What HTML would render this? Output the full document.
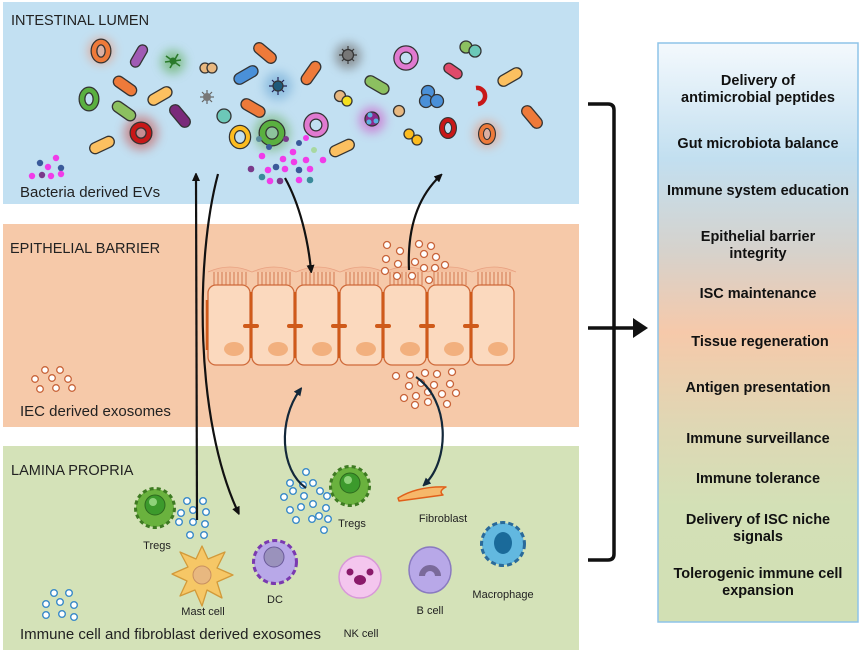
<!DOCTYPE html>
<html><head><meta charset="utf-8"><style>
html,body{margin:0;padding:0;background:#fff;}
svg{display:block;font-family:"Liberation Sans",sans-serif;}
</style></head><body>
<svg width="865" height="653" viewBox="0 0 865 653" xmlns="http://www.w3.org/2000/svg">
<defs>
<linearGradient id="rg" x1="0" y1="0" x2="0" y2="1">
<stop offset="0" stop-color="#f4f9fd"/>
<stop offset="0.2" stop-color="#c2dff0"/>
<stop offset="0.36" stop-color="#d6d2cc"/>
<stop offset="0.5" stop-color="#f6c9aa"/>
<stop offset="0.66" stop-color="#dfd7b4"/>
<stop offset="0.8" stop-color="#d3e0b6"/>
<stop offset="1" stop-color="#d2e0b4"/>
</linearGradient>
<filter id="bl" x="-1" y="-1" width="3" height="3"><feGaussianBlur stdDeviation="5"/></filter>
<marker id="ah" markerWidth="8" markerHeight="8" refX="5" refY="4" orient="auto" markerUnits="userSpaceOnUse"><path d="M0,0 L9,4 L0,8 Z" fill="#111"/></marker>
<marker id="ahb" markerWidth="8" markerHeight="8" refX="5" refY="4" orient="auto" markerUnits="userSpaceOnUse"><path d="M0,0 L9,4 L0,8 Z" fill="#13283a"/></marker>
</defs>

<rect x="3" y="2" width="576" height="202" fill="#c2e0f2"/>
<rect x="3" y="224" width="576" height="203" fill="#f6c9a9"/>
<rect x="3" y="446" width="576" height="204" fill="#d4e2b8"/>
<text x="11" y="25" font-size="14.5" fill="#222">INTESTINAL LUMEN</text>
<text x="10" y="253" font-size="14.5" fill="#222">EPITHELIAL BARRIER</text>
<text x="11" y="475" font-size="14.5" fill="#222">LAMINA PROPRIA</text>

<g filter="url(#bl)" opacity="0.7">
<circle cx="101" cy="51" r="13" fill="#e89a7e"/>
<circle cx="173" cy="62" r="12" fill="#6cb46c"/>
<circle cx="278" cy="86" r="14" fill="#7ab0d8"/>
<circle cx="348" cy="56" r="13" fill="#777"/>
<circle cx="141" cy="133" r="17" fill="#c86b6b"/>
<circle cx="272" cy="133" r="18" fill="#78b878"/>
<circle cx="372" cy="120" r="13" fill="#cc66cc"/>
<circle cx="487" cy="134" r="13" fill="#e89a7e"/>
</g>
<g stroke="#333" stroke-width="1.3">
<rect x="-12" y="-5" width="24" height="10" rx="5" fill="#a05ab4" transform="translate(139,56) rotate(-60)"/>
<rect x="-13" y="-5.5" width="26" height="11" rx="5.5" fill="#ee7a3a" transform="translate(265,53) rotate(40)"/>
<rect x="-13" y="-5.5" width="26" height="11" rx="5.5" fill="#4a90d8" transform="translate(246,75) rotate(-30)"/>
<rect x="-13" y="-5.5" width="26" height="11" rx="5.5" fill="#ee7a3a" transform="translate(311,73) rotate(-55)"/>
<rect x="-10" y="-5" width="20" height="10" rx="5" fill="#e04a6a" transform="translate(453,71) rotate(35)"/>
<rect x="-13" y="-5.5" width="26" height="11" rx="5.5" fill="#fcc060" transform="translate(510,77) rotate(-30)"/>
<rect x="-13" y="-5.5" width="26" height="11" rx="5.5" fill="#ee7a3a" transform="translate(125,86) rotate(35)"/>
<rect x="-13" y="-5.5" width="26" height="11" rx="5.5" fill="#fcc060" transform="translate(160,96) rotate(-30)"/>
<rect x="-13" y="-5.5" width="26" height="11" rx="5.5" fill="#8cc060" transform="translate(124,111) rotate(35)"/>
<rect x="-13" y="-5.5" width="26" height="11" rx="5.5" fill="#7a2a7a" transform="translate(180,116) rotate(50)"/>
<rect x="-13" y="-5.5" width="26" height="11" rx="5.5" fill="#ee7a3a" transform="translate(253,108) rotate(30)"/>
<rect x="-13" y="-5.5" width="26" height="11" rx="5.5" fill="#8cc060" transform="translate(377,85) rotate(30)"/>
<rect x="-13" y="-5.5" width="26" height="11" rx="5.5" fill="#ee7a3a" transform="translate(532,117) rotate(50)"/>
<rect x="-13" y="-5.5" width="26" height="11" rx="5.5" fill="#fcc060" transform="translate(102,145) rotate(-25)"/>
<rect x="-13" y="-5.5" width="26" height="11" rx="5.5" fill="#fcc060" transform="translate(342,148) rotate(-25)"/>
<ellipse cx="101" cy="51" rx="7" ry="9" fill="none" stroke="#333" stroke-width="7"/>
<ellipse cx="101" cy="51" rx="7" ry="9" fill="none" stroke="#ee7a3a" stroke-width="4.5"/>
<ellipse cx="89" cy="99" rx="7" ry="9" fill="none" stroke="#333" stroke-width="7"/>
<ellipse cx="89" cy="99" rx="7" ry="9" fill="none" stroke="#5ab040" stroke-width="4.5"/>
<circle cx="141" cy="133" r="8" fill="none" stroke="#333" stroke-width="7"/>
<circle cx="141" cy="133" r="8" fill="none" stroke="#c81818" stroke-width="4.5"/>
<ellipse cx="240" cy="137" rx="8" ry="9" fill="none" stroke="#333" stroke-width="6.5"/>
<ellipse cx="240" cy="137" rx="8" ry="9" fill="none" stroke="#fcbc20" stroke-width="4"/>
<circle cx="272" cy="133" r="9.5" fill="none" stroke="#333" stroke-width="8"/>
<circle cx="272" cy="133" r="9.5" fill="none" stroke="#5ab040" stroke-width="5.5"/>
<circle cx="316" cy="125" r="9" fill="none" stroke="#333" stroke-width="7.5"/>
<circle cx="316" cy="125" r="9" fill="none" stroke="#e07ad0" stroke-width="5"/>
<circle cx="406" cy="58" r="9" fill="none" stroke="#333" stroke-width="7.5"/>
<circle cx="406" cy="58" r="9" fill="none" stroke="#e07ad0" stroke-width="5"/>
<ellipse cx="448" cy="128" rx="6" ry="8" fill="none" stroke="#333" stroke-width="6"/>
<ellipse cx="448" cy="128" rx="6" ry="8" fill="none" stroke="#c81818" stroke-width="3.8"/>
<ellipse cx="487" cy="134" rx="6" ry="8" fill="none" stroke="#333" stroke-width="6"/>
<ellipse cx="487" cy="134" rx="6" ry="8" fill="none" stroke="#ee7a3a" stroke-width="3.8"/>
<circle cx="205" cy="68" r="5" fill="#e8b880"/><circle cx="212" cy="68" r="5" fill="#e8b880"/>
<circle cx="224" cy="116" r="7" fill="#6cc8b8"/>
<circle cx="340" cy="96" r="5.5" fill="#e8b880"/><circle cx="347" cy="101" r="5" fill="#f4e020"/>
<circle cx="399" cy="111" r="5.5" fill="#e8b880"/>
<circle cx="466" cy="47" r="6" fill="#8cc060"/><circle cx="475" cy="51" r="6" fill="#6cc8b8"/>
<circle cx="428" cy="92" r="6.5" fill="#4a90d8"/><circle cx="426" cy="101" r="6.5" fill="#4a90d8"/><circle cx="437" cy="101" r="6.5" fill="#4a90d8"/>
<circle cx="409" cy="134" r="5" fill="#fcbc20"/><circle cx="417" cy="140" r="5" fill="#fcbc20"/>
<circle cx="372" cy="119" r="7" fill="#8a2a8a"/>
</g>
<circle cx="370" cy="115" r="2.5" fill="#5ab0e0"/><circle cx="369" cy="122" r="2.5" fill="#5ab0e0"/><circle cx="376" cy="121" r="2.5" fill="#5ab0e0"/>
<path d="M476,88 A7,7 0 1 1 478,104" fill="none" stroke="#c81818" stroke-width="4.5"/>
<g stroke="#333" stroke-width="1.2">
<g stroke="#3c3c3c"><line x1="342" y1="49" x2="354" y2="61"/><line x1="354" y1="49" x2="342" y2="61"/><line x1="348" y1="46" x2="348" y2="64"/><line x1="339" y1="55" x2="357" y2="55"/></g>
<circle cx="348" cy="55" r="5.5" fill="#777"/>
<g stroke="#225"><line x1="272" y1="80" x2="284" y2="92"/><line x1="284" y1="80" x2="272" y2="92"/><line x1="278" y1="77" x2="278" y2="95"/><line x1="269" y1="86" x2="287" y2="86"/></g>
<circle cx="278" cy="86" r="5" fill="#1e5a7a"/>
<g stroke="#666"><line x1="202" y1="92" x2="212" y2="102"/><line x1="212" y1="92" x2="202" y2="102"/><line x1="207" y1="90" x2="207" y2="104"/><line x1="200" y1="97" x2="214" y2="97"/></g>
<circle cx="207" cy="97" r="4" fill="#777" stroke="none"/>
<g stroke="#2a7a2a" stroke-width="1.6"><line x1="166" y1="56" x2="180" y2="66"/><line x1="170" y1="68" x2="178" y2="54"/><line x1="165" y1="62" x2="181" y2="60"/></g>
<circle cx="173" cy="61" r="3.5" fill="#2a7a2a" stroke="none"/>
</g>
<g>
<circle cx="40" cy="163" r="3.2" fill="#3a5a9a"/><circle cx="48" cy="167" r="3.2" fill="#f03ce8"/><circle cx="56" cy="158" r="3.2" fill="#f03ce8"/><circle cx="61" cy="168" r="3.2" fill="#3a5a9a"/>
<circle cx="32" cy="176" r="3.2" fill="#f03ce8"/><circle cx="42" cy="175" r="3.2" fill="#7a3a8a"/><circle cx="51" cy="176" r="3.2" fill="#f03ce8"/><circle cx="61" cy="174" r="3.2" fill="#f03ce8"/>
</g>
<g>
<circle cx="259" cy="139" r="3" fill="#5a8a9a"/><circle cx="269" cy="147" r="3" fill="#3a5a9a"/><circle cx="286" cy="139" r="3" fill="#7a3a8a"/><circle cx="299" cy="143" r="3" fill="#3a5a9a"/><circle cx="306" cy="138" r="3" fill="#f03ce8"/>
<circle cx="293" cy="152" r="3.3" fill="#f03ce8"/><circle cx="314" cy="150" r="3" fill="#a8d8a0"/><circle cx="262" cy="156" r="3.3" fill="#f03ce8"/><circle cx="283" cy="159" r="3.3" fill="#f03ce8"/><circle cx="294" cy="162" r="3.3" fill="#f03ce8"/><circle cx="306" cy="160" r="3.3" fill="#f03ce8"/><circle cx="323" cy="160" r="3.3" fill="#f03ce8"/>
<circle cx="251" cy="169" r="3.3" fill="#7a3a8a"/><circle cx="268" cy="170" r="3.3" fill="#f03ce8"/><circle cx="276" cy="167" r="3.3" fill="#3a5a9a"/><circle cx="285" cy="169" r="3.3" fill="#f03ce8"/><circle cx="299" cy="170" r="3.3" fill="#3a5a9a"/><circle cx="310" cy="169" r="3.3" fill="#f03ce8"/>
<circle cx="262" cy="177" r="3.3" fill="#3a8a9a"/><circle cx="270" cy="181" r="3.3" fill="#f03ce8"/><circle cx="280" cy="181" r="3.3" fill="#7a3a8a"/><circle cx="299" cy="180" r="3.3" fill="#f03ce8"/><circle cx="310" cy="180" r="3.3" fill="#3a8a9a"/>
</g>
<text x="20" y="197" font-size="15" fill="#222">Bacteria derived EVs</text>

<path d="M208,272 q22,-10 44,0 q22,-10 44,0 q22,-10 44,0 q22,-10 44,0 q22,-10 44,0 q22,-10 44,0 q22,-10 44,0" fill="#f4bf9e" stroke="#e8a080" stroke-width="0.8"/>
<g stroke="#c8643a" stroke-width="0.8">
<path d="M214,272v13M218,272v13M222,272v13M226,272v13M230,272v13M234,272v13M238,272v13M242,272v13M246,272v13
M258,272v13M262,272v13M266,272v13M270,272v13M274,272v13M278,272v13M282,272v13M286,272v13M290,272v13
M302,272v13M306,272v13M310,272v13M314,272v13M318,272v13M322,272v13M326,272v13M330,272v13M334,272v13
M346,272v13M350,272v13M354,272v13M358,272v13M362,272v13M366,272v13M370,272v13M374,272v13M378,272v13
M390,272v13M394,272v13M398,272v13M402,272v13M406,272v13M410,272v13M414,272v13M418,272v13M422,272v13
M434,272v13M438,272v13M442,272v13M446,272v13M450,272v13M454,272v13M458,272v13M462,272v13M466,272v13
M478,272v13M482,272v13M486,272v13M490,272v13M494,272v13M498,272v13M502,272v13M506,272v13M510,272v13"/>
</g>
<g fill="#fbd9be" stroke="#cf6a3a" stroke-width="1.3">
<rect x="208" y="285" width="42" height="80" rx="8"/><rect x="252" y="285" width="42" height="80" rx="8"/><rect x="296" y="285" width="42" height="80" rx="8"/><rect x="340" y="285" width="42" height="80" rx="8"/><rect x="384" y="285" width="42" height="80" rx="8"/><rect x="428" y="285" width="42" height="80" rx="8"/><rect x="472" y="285" width="42" height="80" rx="8"/>
</g>
<g stroke="#cf5a1a" stroke-width="2.5">
<path d="M251,292v66M295,292v66M339,292v66M383,292v66M427,292v66M471,292v66M207,300v50"/>
</g>
<g stroke="#cf5a1a" stroke-width="4" stroke-linecap="round">
<path d="M245,326h12M289,326h12M333,326h12M377,326h12M421,326h12M465,326h12"/>
</g>
<g fill="#f2b07e"><ellipse cx="234" cy="349" rx="10" ry="7"/><ellipse cx="278" cy="349" rx="10" ry="7"/><ellipse cx="322" cy="349" rx="10" ry="7"/><ellipse cx="366" cy="349" rx="10" ry="7"/><ellipse cx="410" cy="349" rx="10" ry="7"/><ellipse cx="454" cy="349" rx="10" ry="7"/><ellipse cx="498" cy="349" rx="10" ry="7"/></g>
<g fill="#fff" stroke="#c8643a" stroke-width="1.3">
<circle cx="387" cy="245" r="3.5"/><circle cx="400" cy="251" r="3.5"/><circle cx="419" cy="244" r="3.5"/><circle cx="431" cy="246" r="3.5"/><circle cx="424" cy="254" r="3.5"/><circle cx="436" cy="257" r="3.5"/>
<circle cx="386" cy="259" r="3.5"/><circle cx="398" cy="264" r="3.5"/><circle cx="415" cy="262" r="3.5"/><circle cx="424" cy="268" r="3.5"/><circle cx="435" cy="268" r="3.5"/><circle cx="445" cy="265" r="3.5"/>
<circle cx="385" cy="271" r="3.5"/><circle cx="397" cy="276" r="3.5"/><circle cx="412" cy="276" r="3.5"/><circle cx="429" cy="280" r="3.5"/>
<circle cx="396" cy="376" r="3.5"/><circle cx="410" cy="375" r="3.5"/><circle cx="425" cy="373" r="3.5"/><circle cx="437" cy="374" r="3.5"/><circle cx="452" cy="372" r="3.5"/>
<circle cx="409" cy="386" r="3.5"/><circle cx="421" cy="383" r="3.5"/><circle cx="434" cy="385" r="3.5"/><circle cx="450" cy="384" r="3.5"/>
<circle cx="404" cy="398" r="3.5"/><circle cx="416" cy="396" r="3.5"/><circle cx="428" cy="392" r="3.5"/><circle cx="442" cy="394" r="3.5"/><circle cx="456" cy="393" r="3.5"/>
<circle cx="415" cy="405" r="3.5"/><circle cx="428" cy="402" r="3.5"/><circle cx="447" cy="404" r="3.5"/>
<circle cx="45" cy="370" r="3.3"/><circle cx="60" cy="370" r="3.3"/><circle cx="35" cy="379" r="3.3"/><circle cx="52" cy="378" r="3.3"/><circle cx="68" cy="379" r="3.3"/><circle cx="40" cy="389" r="3.3"/><circle cx="56" cy="388" r="3.3"/><circle cx="72" cy="388" r="3.3"/>
</g>
<text x="20" y="416" font-size="15" fill="#222">IEC derived exosomes</text>

<g fill="#fff" stroke="#3a8ac8" stroke-width="1.4">
<circle cx="187" cy="501" r="3.3"/><circle cx="203" cy="501" r="3.3"/><circle cx="181" cy="513" r="3.3"/><circle cx="193" cy="510" r="3.3"/><circle cx="206" cy="512" r="3.3"/><circle cx="179" cy="522" r="3.3"/><circle cx="193" cy="522" r="3.3"/><circle cx="205" cy="524" r="3.3"/><circle cx="190" cy="535" r="3.3"/><circle cx="204" cy="535" r="3.3"/>
<circle cx="306" cy="472" r="3.3"/><circle cx="303" cy="485" r="3.3"/><circle cx="313" cy="483" r="3.3"/><circle cx="290" cy="483" r="3.3"/><circle cx="320" cy="491" r="3.3"/><circle cx="284" cy="497" r="3.3"/><circle cx="293" cy="491" r="3.3"/><circle cx="304" cy="496" r="3.3"/><circle cx="313" cy="504" r="3.3"/><circle cx="326" cy="508" r="3.3"/><circle cx="290" cy="510" r="3.3"/><circle cx="301" cy="507" r="3.3"/><circle cx="319" cy="516" r="3.3"/><circle cx="296" cy="520" r="3.3"/><circle cx="312" cy="519" r="3.3"/><circle cx="327" cy="496" r="3.3"/><circle cx="328" cy="519" r="3.3"/><circle cx="324" cy="530" r="3.3"/>
<circle cx="54" cy="593" r="3.3"/><circle cx="69" cy="593" r="3.3"/><circle cx="46" cy="604" r="3.3"/><circle cx="60" cy="602" r="3.3"/><circle cx="74" cy="605" r="3.3"/><circle cx="46" cy="615" r="3.3"/><circle cx="62" cy="614" r="3.3"/><circle cx="74" cy="617" r="3.3"/>
</g>
<text x="20" y="639" font-size="15" fill="#222">Immune cell and fibroblast  derived exosomes</text>

<g stroke-linejoin="round">
<circle cx="155" cy="508" r="19" fill="#6ab23e" stroke="#3e7a22" stroke-width="4" stroke-dasharray="4 3"/>
<circle cx="155" cy="508" r="18" fill="#6ab23e"/>
<circle cx="155" cy="505" r="10" fill="#3c9a2c" stroke="#2e6a1e"/><circle cx="153" cy="502" r="4" fill="#8ed27a"/>
<circle cx="350" cy="486" r="19" fill="#6ab23e" stroke="#3e7a22" stroke-width="4" stroke-dasharray="4 3"/>
<circle cx="350" cy="486" r="18" fill="#6ab23e"/>
<circle cx="350" cy="483" r="10" fill="#3c9a2c" stroke="#2e6a1e"/><circle cx="348" cy="480" r="4" fill="#8ed27a"/>
<polygon points="202,546 208,559 225,552 217,568 233,575 217,582 222,598 207,590 202,606 195,590 180,596 187,581 172,574 188,567 180,552 196,559" fill="#f6c766" stroke="#d29a3a" stroke-width="1.3"/>
<circle cx="202" cy="575" r="9" fill="#e8b880" stroke="#c89060"/>
<circle cx="275" cy="562" r="21" fill="#b8a8e8" stroke="#7a3ab0" stroke-width="4" stroke-dasharray="5 3"/>
<circle cx="275" cy="562" r="20" fill="#b8a8e8"/>
<circle cx="274" cy="557" r="10" fill="#9a92bc" stroke="#6a5a9a"/>
<circle cx="360" cy="577" r="21" fill="#f4c6ee" stroke="#d898d8" stroke-width="1.5"/>
<ellipse cx="360" cy="580" rx="6" ry="5" fill="#8a1a6a"/><circle cx="350" cy="572" r="3.5" fill="#8a1a6a"/><circle cx="370" cy="572" r="3.5" fill="#8a1a6a"/>
<ellipse cx="430" cy="570" rx="21" ry="23" fill="#b8a8e8" stroke="#8a7ac0" stroke-width="1.5"/>
<path d="M422,576 a8,8 0 1 1 16,0" fill="none" stroke="#7a6a9a" stroke-width="6"/>
<circle cx="503" cy="544" r="21" fill="#62b8e0" stroke="#2a6a9a" stroke-width="4" stroke-dasharray="5 3"/>
<circle cx="503" cy="544" r="20" fill="#62b8e0"/>
<ellipse cx="503" cy="543" rx="9" ry="11" fill="#1a6a9a"/>
<path d="M398,498 q20,-12 48,-11 q-8,4 -3,8 l-44,6 z" fill="#f6b86a" stroke="#e0601a" stroke-width="1.5"/>
</g>
<g font-size="11" fill="#222" text-anchor="middle">
<text x="157" y="549">Tregs</text><text x="352" y="527">Tregs</text><text x="203" y="615">Mast cell</text><text x="275" y="603">DC</text><text x="361" y="637">NK cell</text><text x="430" y="614">B cell</text><text x="503" y="598">Macrophage</text><text x="443" y="522">Fibroblast</text>
</g>

<g fill="none" stroke="#111" stroke-width="2.2">
<path d="M197,520 L196,176" marker-end="url(#ah)"/>
<path d="M218,174 C195,260 195,420 238,512" marker-end="url(#ah)"/>
<path d="M285,178 C300,205 308,240 311,270" marker-end="url(#ah)"/>
<path d="M409,270 C407,225 420,195 440,176" marker-end="url(#ah)"/>
</g>
<g fill="none" stroke="#13283a" stroke-width="2.2">
<path d="M306,488 C280,470 278,420 300,390" marker-end="url(#ahb)"/>
<path d="M416,377 C450,400 450,460 425,484" marker-end="url(#ahb)"/>
</g>

<g fill="none" stroke="#111" stroke-width="3.5">
<path d="M588,104 H608 Q614,104 614,110 V554 Q614,560 608,560 H588"/>
<path d="M588,328 H634"/>
</g>
<path d="M633,318 L648,328 L633,338 Z" fill="#111"/>

<rect x="658" y="43" width="200" height="579" fill="url(#rg)" stroke="#8ec4e8" stroke-width="1.5"/>
<g font-size="14.5" font-weight="bold" fill="#111" text-anchor="middle">
<text x="758" y="85">Delivery of</text><text x="758" y="102">antimicrobial peptides</text>
<text x="758" y="148">Gut microbiota balance</text>
<text x="758" y="195">Immune system education</text>
<text x="758" y="241">Epithelial barrier</text><text x="758" y="258">integrity</text>
<text x="758" y="298">ISC maintenance</text>
<text x="760" y="346">Tissue regeneration</text>
<text x="758" y="392">Antigen presentation</text>
<text x="758" y="443">Immune surveillance</text>
<text x="758" y="483">Immune tolerance</text>
<text x="758" y="524">Delivery of ISC niche</text><text x="758" y="541">signals</text>
<text x="758" y="578">Tolerogenic immune cell</text><text x="758" y="595">expansion</text>
</g>
</svg>
</body></html>
